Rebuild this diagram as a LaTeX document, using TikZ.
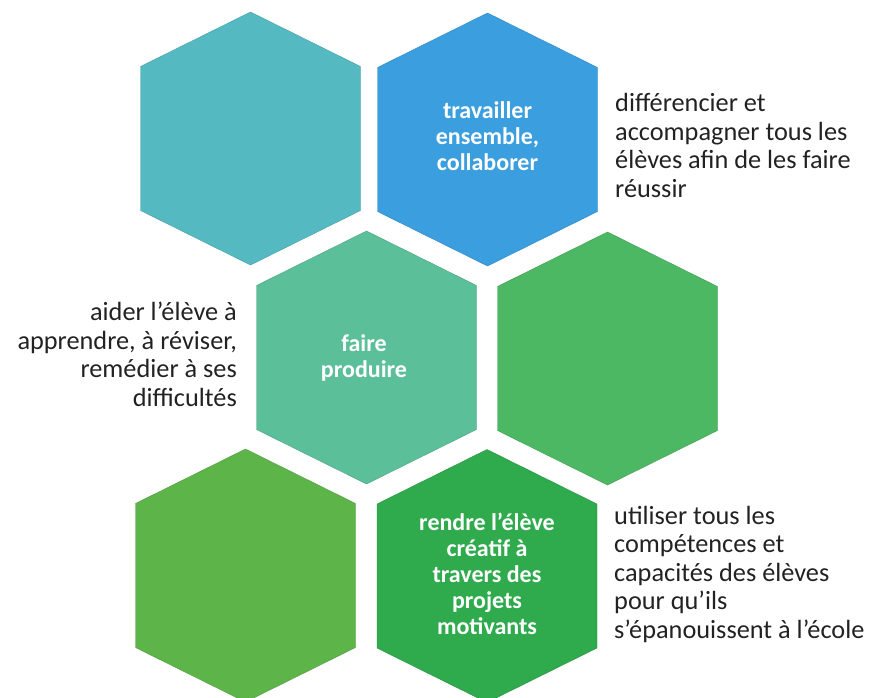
\documentclass[tikz,border=0pt]{standalone}
\usepackage{fontspec}
\setmainfont{Carlito}
\definecolor{hexA}{HTML}{55B9C2}
\definecolor{hexB}{HTML}{3A9EDF}
\definecolor{hexC}{HTML}{5BBF9A}
\definecolor{hexD}{HTML}{4DB864}
\definecolor{hexE}{HTML}{5DB54A}
\definecolor{hexF}{HTML}{2FAA4D}
\definecolor{txt}{HTML}{222222}
\newcommand{\hexshape}[3]{%
  \filldraw[fill=#3, draw=#3!85!black, line width=0.4pt]
    ($(#1,#2)+(0,-126.5)$) -- ++(110,54.5) -- ++(0,144) -- ++(-110,54.5)
    -- ++(-110,-54.5) -- ++(0,-144) -- cycle;}
\usetikzlibrary{calc}
\tikzset{
  hextext/.style={text=white, font=\fontsize{24}{26}\selectfont\bfseries, align=center, inner sep=0pt},
  sidetext/.style={text=txt, font=\fontsize{26.3}{28.5}\selectfont, inner sep=0pt}
}
\begin{document}
\begin{tikzpicture}[x=1pt,y=-1pt]
\useasboundingbox (0,0) rectangle (872,697);
\begin{scope}
\clip (0,0) rectangle (872,697);
\hexshape{250.5}{138.5}{hexA}
\hexshape{487.5}{139.5}{hexB}
\hexshape{366.5}{357.5}{hexC}
\hexshape{607.5}{358.5}{hexD}
\hexshape{245.5}{575.5}{hexE}
\hexshape{487}{576}{hexF}
\end{scope}
\node[hextext, anchor=base] (t2) at (487.5,170) {travailler\\ensemble,\\collaborer};
\node[hextext, anchor=base] (t3) at (364,377) {faire\\produire};
\node[hextext, anchor=base] (t6) at (487,634) {rendre l’élève\\créatif à\\travers des\\projets\\motivants};
\node[sidetext, align=left, anchor=base west] (s1) at (615,197) {différencier et\\accompagner tous les\\élèves afin de les faire\\réussir};
\node[sidetext, align=right, anchor=base east] (s2) at (237,406) {aider l’élève à\\apprendre, à réviser,\\remédier à ses\\difficultés};
\node[sidetext, align=left, anchor=base west] (s3) at (614,638) {utiliser tous les\\compétences et\\capacités des élèves\\pour qu’ils\\s’épanouissent à l’école};
\end{tikzpicture}
\end{document}
